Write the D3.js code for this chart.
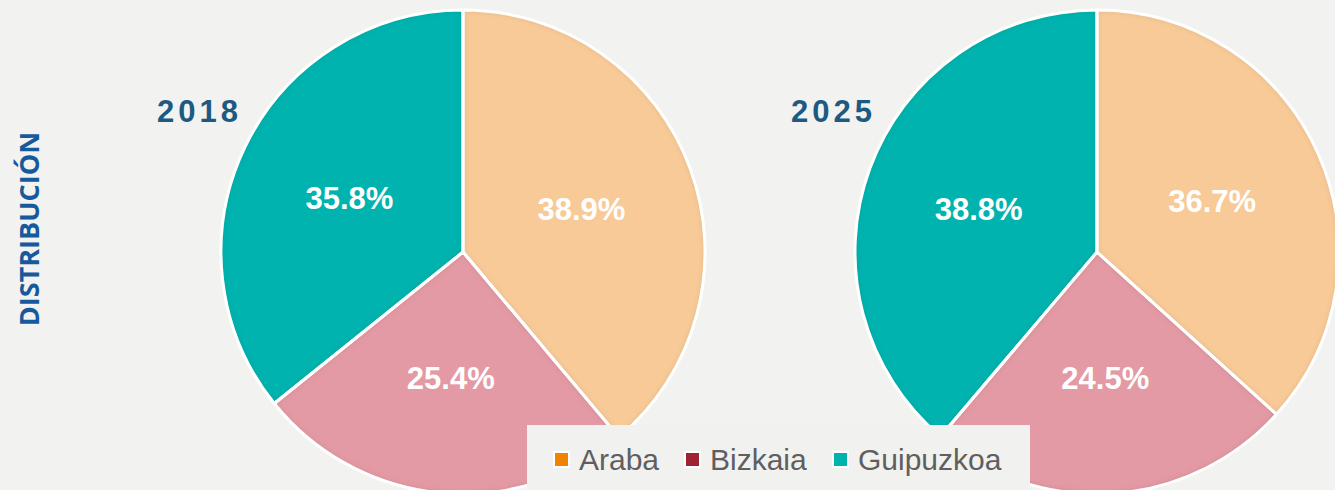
<!DOCTYPE html>
<html lang="es">
<head>
    <meta charset="UTF-8">
    <script src="https://d3js.org/d3.v7.min.js"></script>
    <style>
        body { margin: 0; background: #f2f2f0; }
        svg { display: block; }
        .pct { font: bold 31px "Liberation Sans", Arial, sans-serif; fill: #fff; text-anchor: middle; }
        .year { font: bold 31px "Liberation Sans", Arial, sans-serif; fill: #1d5a82; letter-spacing: 4px; text-anchor: end; }
        .side { font: bold 27px "Open Sans", sans-serif; fill: #17599d; text-anchor: middle; }
        .leg { font: 30px "Liberation Sans", Arial, sans-serif; fill: #5f5f5f; }
    </style>
    <title>Distribución</title>
</head>
<body>
<script>
    // data
    const regions = ["Araba", "Bizkaia", "Guipuzkoa"];
    const years = ["2018", "2025"];
    const share2018 = [38.9, 25.4, 35.8];
    const share2025 = [36.7, 24.5, 38.8];
    const sliceColors = ["#f8ca98", "#e39aa4", "#00b3ae"];
    const legendColors = ["#f08400", "#a02333", "#00b3ae"];

    const width = 1335;
    const height = 490;
    const radius = 242;

    const svg = d3.select("body").append("svg")
        .attr("width", width)
        .attr("height", height);

    svg.append("rect").attr("width", width).attr("height", height).attr("fill", "#f2f2f0");

    // soft inner shadow along slice edges
    const filter = svg.append("defs").append("filter").attr("id", "inner")
        .attr("x", "-5%").attr("y", "-5%").attr("width", "110%").attr("height", "110%");
    filter.append("feGaussianBlur").attr("in", "SourceAlpha").attr("stdDeviation", 3).attr("result", "blur");
    filter.append("feComposite").attr("in", "SourceAlpha").attr("in2", "blur")
        .attr("operator", "arithmetic").attr("k2", 1).attr("k3", -1).attr("result", "edge");
    filter.append("feFlood").attr("flood-color", "#000").attr("flood-opacity", 0.28);
    filter.append("feComposite").attr("in2", "edge").attr("operator", "in").attr("result", "shadow");
    const merge = filter.append("feMerge");
    merge.append("feMergeNode").attr("in", "SourceGraphic");
    merge.append("feMergeNode").attr("in", "shadow");

    const color = d3.scaleOrdinal().domain(regions).range(sliceColors);
    const x = d3.scalePoint().domain(years).range([463, 1097]);
    const cy = 252;

    const pie = d3.pie().sort(null).value(d => d.value);
    const arc = d3.arc().innerRadius(0).outerRadius(radius);
    const labelArc = d3.arc().innerRadius(126).outerRadius(126);

    const series = [share2018, share2025];

    years.forEach((yr, i) => {
        const data = regions.map((r, j) => ({ name: r, value: series[i][j] }));
        const arcs = pie(data);
        const g = svg.append("g").attr("transform", `translate(${x(yr)},${cy})`);

        g.selectAll("path.fill")
            .data(arcs)
            .join("path")
            .attr("class", "fill")
            .attr("d", arc)
            .attr("fill", d => color(d.data.name))
            .attr("filter", "url(#inner)");

        g.selectAll("path.edge")
            .data(arcs)
            .join("path")
            .attr("class", "edge")
            .attr("d", arc)
            .attr("fill", "none")
            .attr("stroke", "#fff")
            .attr("stroke-width", 3)
            .attr("stroke-linejoin", "round");

        g.selectAll("text")
            .data(arcs)
            .join("text")
            .attr("class", "pct")
            .attr("transform", d => `translate(${labelArc.centroid(d)})`)
            .attr("dy", "0.36em")
            .text(d => d.data.value.toFixed(1) + "%");

        svg.append("text")
            .attr("class", "year")
            .attr("x", x(yr) - 221)
            .attr("y", 122)
            .text(yr);
    });

    svg.append("text")
        .attr("class", "side")
        .attr("transform", "translate(39,229) rotate(-90)")
        .text("DISTRIBUCIÓN");

    // legend
    const legend = svg.append("g");
    legend.append("rect")
        .attr("x", 527).attr("y", 425)
        .attr("width", 503).attr("height", 70)
        .attr("fill", "#f1f1ef");

    const legX = d3.scaleOrdinal().domain(regions).range([554, 685, 833]);
    const item = legend.selectAll("g.item")
        .data(regions)
        .join("g")
        .attr("class", "item")
        .attr("transform", d => `translate(${legX(d)},452)`);

    item.append("rect")
        .attr("width", 15).attr("height", 15)
        .attr("fill", (d, j) => legendColors[j])
        .attr("stroke", "#fff").attr("stroke-width", 2);

    item.append("text")
        .attr("class", "leg")
        .attr("x", 25)
        .attr("y", 18)
        .text(d => d);
</script>
</body>
</html>
